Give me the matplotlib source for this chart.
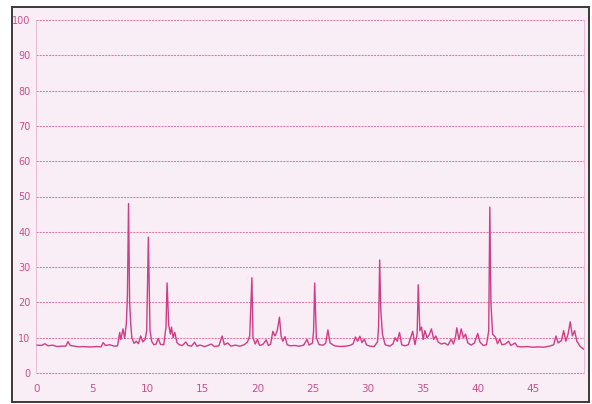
import matplotlib
matplotlib.use("Agg")
import matplotlib.pyplot as plt
from matplotlib.patches import Rectangle

# retention time (min) and detector signal
time = [0.0, 0.4, 0.7, 1.0, 1.4, 1.8, 2.2, 2.6, 2.8, 3.0, 3.4, 3.8, 4.2, 4.6,
        5.0, 5.4, 5.8, 6.0, 6.2, 6.6, 7.0, 7.3, 7.5, 7.6, 7.8, 7.95, 8.1, 8.2,
        8.3, 8.4, 8.5, 8.6, 8.8, 9.0, 9.2, 9.4, 9.6, 9.8, 9.95, 10.1, 10.25,
        10.4, 10.6, 10.8, 11.0, 11.2, 11.5, 11.7, 11.8, 11.95, 12.1, 12.2,
        12.35, 12.5, 12.7, 12.9, 13.2, 13.5, 13.7, 14.0, 14.3, 14.5, 14.8,
        15.2, 15.5, 15.8, 16.1, 16.5, 16.8, 17.0, 17.3, 17.6, 18.0, 18.4,
        18.8, 19.1, 19.3, 19.5, 19.6, 19.8, 20.0, 20.2, 20.5, 20.8, 21.0,
        21.2, 21.4, 21.6, 21.8, 22.0, 22.15, 22.3, 22.5, 22.7, 23.0, 23.4,
        23.8, 24.2, 24.5, 24.7, 25.0, 25.1, 25.2, 25.35, 25.6, 26.0, 26.2,
        26.4, 26.6, 27.0, 27.5, 28.0, 28.4, 28.7, 28.9, 29.1, 29.3, 29.5,
        29.7, 29.9, 30.2, 30.6, 30.9, 31.0, 31.1, 31.2, 31.35, 31.6, 32.0,
        32.3, 32.5, 32.7, 32.9, 33.1, 33.4, 33.7, 34.1, 34.3, 34.5, 34.6,
        34.75, 34.9, 35.05, 35.2, 35.4, 35.6, 35.8, 36.0, 36.2, 36.4, 36.7,
        37.0, 37.3, 37.6, 37.8, 38.0, 38.1, 38.3, 38.5, 38.7, 38.9, 39.1,
        39.4, 39.7, 40.0, 40.2, 40.5, 40.8, 41.0, 41.1, 41.2, 41.35, 41.6,
        41.8, 42.0, 42.2, 42.5, 42.8, 43.0, 43.4, 43.6, 44.0, 44.5, 45.0,
        45.5, 46.0, 46.5, 46.9, 47.1, 47.3, 47.6, 47.8, 48.0, 48.2, 48.4,
        48.6, 48.8, 49.0, 49.3, 49.6]
signal = [7.9, 7.8, 8.3, 7.7, 7.9, 7.5, 7.6, 7.6, 8.9, 7.8, 7.6, 7.4, 7.5, 7.4,
          7.4, 7.5, 7.4, 8.6, 7.8, 8.0, 7.6, 7.7, 11.5, 9.5, 12.5, 9.8, 14.0, 22.0,
          48.0, 20.0, 14.0, 10.0, 8.4, 9.0, 8.3, 10.5, 8.8, 9.5, 12.0, 38.5, 12.0,
          9.0, 8.0, 8.2, 9.8, 8.1, 8.0, 13.0, 25.5, 13.5, 11.0, 13.0,
          10.0, 11.5, 8.6, 8.0, 7.8, 8.8, 7.8, 7.6, 8.7, 7.6, 7.9,
          7.5, 7.8, 8.2, 7.5, 7.7, 10.5, 8.0, 8.5, 7.6, 7.9, 7.6,
          8.0, 8.8, 10.5, 27.0, 10.0, 8.2, 9.5, 7.8, 8.1, 9.4, 7.8,
          8.2, 11.8, 10.5, 12.0, 15.8, 10.5, 9.0, 10.3, 8.0, 7.7, 7.8,
          7.6, 7.9, 9.5, 7.9, 8.5, 12.0, 25.5, 10.0, 8.0, 7.9, 8.5,
          12.2, 8.5, 7.7, 7.5, 7.6, 7.8, 8.3, 10.2, 9.0, 10.4, 8.6,
          9.6, 8.0, 7.6, 7.5, 8.8, 13.0, 32.0, 18.0, 11.0, 8.0, 7.6,
          8.2, 10.0, 9.0, 11.5, 8.0, 7.7, 8.0, 11.8, 8.0, 11.0, 25.0,
          12.0, 13.0, 9.5, 12.0, 10.0, 10.8, 12.5, 9.5, 10.5, 8.8, 8.2,
          8.5, 7.9, 9.6, 8.2, 10.5, 12.8, 9.5, 12.5, 10.0, 11.0, 8.5,
          7.9, 8.5, 11.2, 8.8, 7.8, 8.0, 12.0, 47.0, 20.0, 11.0, 10.2,
          8.3, 9.6, 8.0, 8.2, 9.0, 7.8, 8.5, 7.5, 7.4, 7.5, 7.3,
          7.4, 7.3, 7.6, 8.0, 10.5, 8.5, 9.2, 12.0, 9.0, 11.0, 14.5,
          10.5, 12.0, 9.0, 7.5, 6.8]

x_ticks = [0, 5, 10, 15, 20, 25, 30, 35, 40, 45]
y_ticks = [0, 10, 20, 30, 40, 50, 60, 70, 80, 90, 100]

pink = "#d03c86"
grid_pink = "#dc7aae"
label_pink = "#cc4f8c"
paper = "#f9eef5"

fig = plt.figure(figsize=(5.92, 4.04), dpi=100)
fig.patch.set_facecolor("white")

# paper with dark frame, kept behind the axes
frame = Rectangle((12 / 592, 2 / 404), 577 / 592, 395 / 404,
                  transform=fig.transFigure, facecolor=paper,
                  edgecolor="#3a3a3a", linewidth=1.4, zorder=-10)
fig.patches.append(frame)

ax = fig.add_axes([36 / 592, 31 / 404, 548 / 592, 353 / 404])
ax.set_facecolor("none")
ax.set_zorder(5)

for v in y_ticks:
    ax.axhline(v, color=grid_pink, lw=0.75, ls=(0, (2, 1)), clip_on=False,
               zorder=1)

ax.plot(time, signal, color=pink, lw=1.0, zorder=3)

ax.set_xlim(-0.1, 49.65)
ax.set_ylim(0, 100)

for side in ["top", "bottom"]:
    ax.spines[side].set_visible(False)
for side in ["left", "right"]:
    ax.spines[side].set_color("#eab4d0")
    ax.spines[side].set_linewidth(0.6)
    ax.spines[side].set_linestyle((0, (1.5, 1)))

ax.set_xticks(x_ticks)
ax.set_yticks(y_ticks)
ax.tick_params(length=0, labelcolor=label_pink)
ax.tick_params(axis="x", labelsize=7.5, pad=8)
ax.tick_params(axis="y", labelsize=7, pad=4)

fig.savefig("out.png", dpi=100)
